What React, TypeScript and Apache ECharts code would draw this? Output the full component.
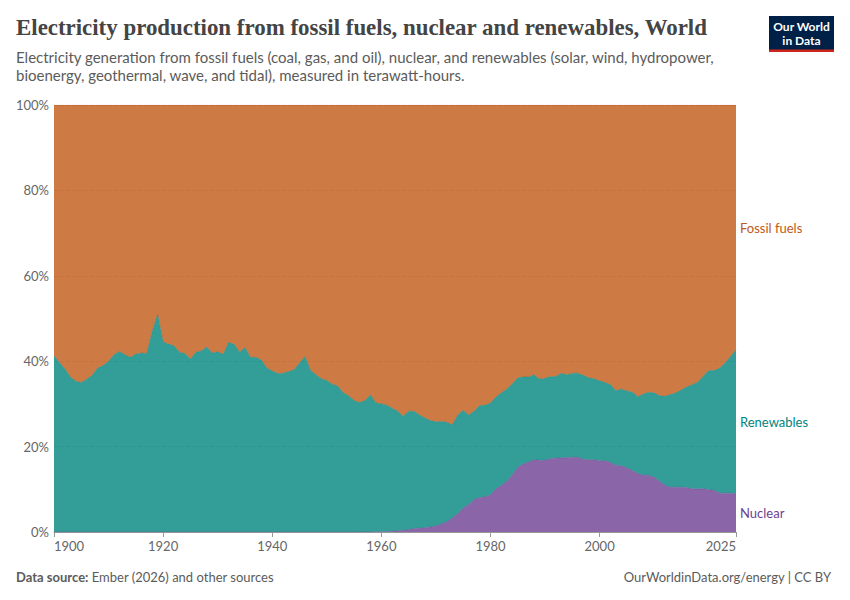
import React, { useEffect, useRef } from "react";
import * as echarts from "echarts";

const years: string[] = [];
for (let y = 1900; y <= 2025; y++) years.push(String(y));

const xTicks = ["1900", "1920", "1940", "1960", "1980", "2000", "2025"];
const yTicks = [0, 20, 40, 60, 80, 100];

const nuclear = [
  0,0,0,0,0,0,0,0,0,0,0,0,0,0,0,0,0,0,0,0,0,0,0,0,0,0,0,0,0,0,
  0,0,0,0,0,0,0,0,0,0,0,0,0,0,0,0,0,0,0,0,0,0,0,0,0,0.01,0.01,0.02,0.02,0.03,
  0.05,0.1,0.2,0.3,0.4,0.55,0.8,0.9,1.0,1.2,1.4,1.9,2.4,3.3,4.3,5.6,6.4,7.6,8.1,8.2,
  8.7,10.1,10.9,11.9,13.4,15.1,15.9,16.4,16.9,16.8,16.8,17.2,17.3,17.4,17.4,17.5,17.5,17.0,16.9,16.9,
  16.7,16.7,16.3,15.6,15.5,15.0,14.4,13.7,13.3,13.3,12.8,11.9,10.9,10.5,10.5,10.5,10.4,10.1,10.1,10.1,
  9.9,9.8,9.1,9.1,9.1,8.9,
];

const renewables = [
  41.3,39.7,38.2,36.3,35.3,35.0,35.8,36.7,38.4,39.0,40.0,41.5,42.3,41.5,40.9,41.7,41.9,41.8,47,51,
  44.5,44,43.6,42.1,41.8,40.5,42.1,42.4,43.3,41.9,42.2,41.6,44.4,44.0,42.1,43.2,40.9,40.9,40.3,38.4,
  37.7,37.1,37.2,37.6,38.0,39.6,41.1,37.9,36.8,35.9,35.5,34.6,34.2,32.6,31.9,30.79,30.29,30.78,32.08,30.17,
  30.0,29.6,28.8,28.0,26.7,27.75,27.5,26.5,25.7,24.9,24.4,24.0,23.3,21.8,23.1,22.9,21.0,20.7,21.5,21.5,
  21.5,21.5,21.7,21.6,21.3,21.0,20.4,19.9,19.9,19.0,19.2,19.2,19.1,19.8,19.4,19.7,19.7,19.7,19.2,19.0,
  18.7,18.3,18.2,17.5,18.0,18.0,18.4,18.0,19.0,19.4,19.8,20.0,20.9,21.7,22.1,22.8,23.6,24.4,25.0,26.4,
  27.9,28.0,29.3,30.5,32.0,33.8,
];

const fossil = [
  58.7,60.3,61.8,63.7,64.7,65.0,64.2,63.3,61.6,61.0,60.0,58.5,57.7,58.5,59.1,58.3,58.1,58.2,53,49,
  55.5,56,56.4,57.9,58.2,59.5,57.9,57.6,56.7,58.1,57.8,58.4,55.6,56.0,57.9,56.8,59.1,59.1,59.7,61.6,
  62.3,62.9,62.8,62.4,62.0,60.4,58.9,62.1,63.2,64.1,64.5,65.4,65.8,67.4,68.1,69.2,69.7,69.2,67.9,69.8,
  69.95,70.3,71,71.7,72.9,71.7,71.7,72.6,73.3,73.9,74.2,74.1,74.3,74.9,72.6,71.5,72.6,71.7,70.4,70.3,
  69.8,68.4,67.4,66.5,65.3,63.9,63.7,63.7,63.2,64.2,64,63.6,63.6,62.8,63.2,62.8,62.8,63.3,63.9,64.1,
  64.6,65,65.5,66.9,66.5,67,67.2,68.3,67.7,67.3,67.4,68.1,68.2,67.8,67.4,66.7,66,65.5,64.9,63.5,
  62.2,62.2,61.6,60.4,58.9,57.3,
];

const FONT = "Lato, 'Noto Sans', sans-serif";
const FOSSIL = "#C05917";
const RENEW = "#00847E";
const NUC = "#6D3E91";

const areaSeries = (name: string, data: number[], color: string) => ({
  name,
  type: "line",
  stack: "total",
  data,
  symbol: "none",
  showSymbol: false,
  smooth: false,
  lineStyle: { width: 0.5, color, opacity: 0.7 },
  areaStyle: { color, opacity: 0.8 },
  itemStyle: { color },
});

export default function App() {
  const ref = useRef<HTMLDivElement>(null);
  useEffect(() => {
    const chart = echarts.init(ref.current!, null, { renderer: "svg" });
    chart.setOption({
      animation: false,
      backgroundColor: "#ffffff",
      textStyle: { fontFamily: FONT },
      grid: { left: 54, right: 114, top: 105, bottom: 68, containLabel: false },
      xAxis: {
        type: "category",
        data: years,
        boundaryGap: false,
        axisLine: { show: true, onZero: true, lineStyle: { color: "#999999", width: 1 } },
        axisTick: {
          show: true,
          length: 5,
          lineStyle: { color: "#999999" },
          interval: (_: number, v: string) => xTicks.includes(v),
        },
        axisLabel: {
          show: true,
          color: "#666666",
          fontSize: 13,
          fontFamily: FONT,
          margin: 7,
          interval: (_: number, v: string) => xTicks.includes(v),
          alignMinLabel: "left",
          alignMaxLabel: "right",
          showMinLabel: true,
          showMaxLabel: true,
          hideOverlap: false,
        },
        splitLine: { show: false },
      },
      yAxis: {
        type: "value",
        min: 0,
        max: 100,
        interval: 20,
        axisLine: { show: false },
        axisTick: { show: false },
        axisLabel: {
          color: "#666666",
          fontSize: 13,
          fontFamily: FONT,
          margin: 5,
          formatter: (v: number) => (yTicks.includes(v) ? `${v}%` : ""),
        },
        splitLine: { show: true, lineStyle: { color: "#dddddd", type: "dashed", width: 1 } },
      },
      series: [
        areaSeries("Nuclear", nuclear, NUC),
        areaSeries("Renewables", renewables, RENEW),
        areaSeries("Fossil fuels", fossil, FOSSIL),
      ],
      graphic: [
        {
          type: "text", left: 16, top: 16,
          style: { text: "Electricity production from fossil fuels, nuclear and renewables, World", font: "bold 22.9px 'Liberation Serif', 'DejaVu Serif', serif", fill: "#444444" },
        },
        {
          type: "text", left: 16, top: 48,
          style: { text: "Electricity generation from fossil fuels (coal, gas, and oil), nuclear, and renewables (solar, wind, hydropower,\nbioenergy, geothermal, wave, and tidal), measured in terawatt-hours.", font: `15px ${FONT}`, lineHeight: 18, fill: "#5b5b5b" },
        },
        { type: "rect", shape: { x: 769, y: 16, width: 65, height: 36 }, style: { fill: "#002147" } },
        { type: "rect", shape: { x: 769, y: 49.5, width: 65, height: 2.5 }, style: { fill: "#CE261E" } },
        {
          type: "text", x: 801.5, y: 19.5,
          style: { text: "Our World\nin Data", font: `bold 12px ${FONT}`, lineHeight: 14, fill: "#ffffff", align: "center" },
        },
        { type: "text", x: 740, y: 221, style: { text: "Fossil fuels", font: `13px ${FONT}`, fill: FOSSIL } },
        { type: "text", x: 740, y: 415, style: { text: "Renewables", font: `13px ${FONT}`, fill: RENEW } },
        { type: "text", x: 740, y: 506, style: { text: "Nuclear", font: `13px ${FONT}`, fill: NUC } },
        {
          type: "text", x: 16, y: 570,
          style: {
            text: "{b|Data source:} {n|Ember (2026) and other sources}",
            rich: {
              b: { font: `bold 13px ${FONT}`, fill: "#5b5b5b" },
              n: { font: `13px ${FONT}`, fill: "#5b5b5b" },
            },
          },
        },
        {
          type: "text", x: 831, y: 570,
          style: { text: "OurWorldinData.org/energy | CC BY", font: `13px ${FONT}`, fill: "#5b5b5b", align: "right" },
        },
      ],
    });
    return () => chart.dispose();
  }, []);
  return <div ref={ref} style={{ position: "fixed", left: 0, top: 0, width: 850, height: 600 }} />;
}
